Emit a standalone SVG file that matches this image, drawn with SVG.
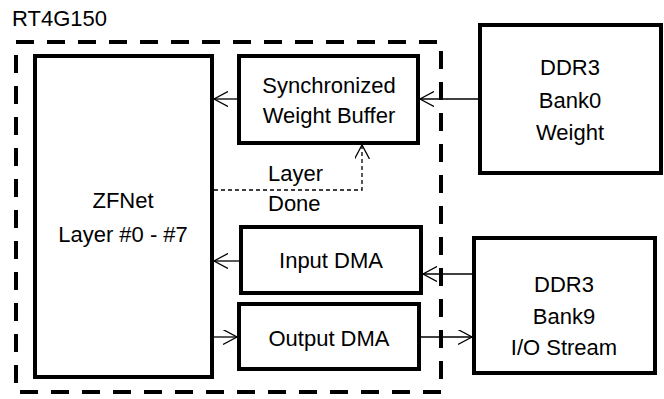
<svg xmlns="http://www.w3.org/2000/svg" width="664" height="399" viewBox="0 0 664 399">
<defs>
<marker id="a" markerWidth="16" markerHeight="16" refX="14" refY="7.5" orient="auto" markerUnits="userSpaceOnUse"><path d="M0,0 L14,7.5 L0,15" fill="none" stroke="#000" stroke-width="1.3"/></marker>
<style>
.box{fill:#fff;stroke:#000;stroke-width:4}
.t{font-family:"Liberation Sans",Arial,sans-serif;font-size:22px;fill:#000;text-anchor:middle}
.c{fill:none;stroke:#000;stroke-width:1.3;marker-end:url(#a)}
</style>
</defs>
<rect width="664" height="399" fill="#fff"/>
<g id="fpga">
<rect x="16" y="42" width="425" height="350" fill="none" stroke="#000" stroke-width="4" stroke-dasharray="18,13"/>
<text x="12" y="26" class="t" style="text-anchor:start">RT4G150</text>
</g>
<g id="zfnet"><rect class="box" x="35" y="56" width="177" height="321"/><text class="t" x="123" y="208">ZFNet</text><text class="t" x="123" y="242">Layer #0 - #7</text></g>
<g id="swb"><rect class="box" x="239" y="56" width="179" height="87"/><text class="t" x="329" y="93">Synchronized</text><text class="t" x="329" y="123">Weight Buffer</text></g>
<g id="idma"><rect class="box" x="241" y="227" width="180" height="66"/><text class="t" x="331" y="268">Input DMA</text></g>
<g id="odma"><rect class="box" x="239" y="304" width="180" height="65"/><text class="t" x="329" y="346">Output DMA</text></g>
<g id="bank0"><rect class="box" x="480" y="25" width="181" height="148"/><text class="t" x="570" y="75">DDR3</text><text class="t" x="570" y="108">Bank0</text><text class="t" x="570" y="140">Weight</text></g>
<g id="bank9"><rect class="box" x="474" y="238" width="181" height="135"/><text class="t" x="564" y="292">DDR3</text><text class="t" x="564" y="324">Bank9</text><text class="t" x="564" y="355">I/O Stream</text></g>
<g id="connectors">
<line class="c" x1="480" y1="99" x2="420" y2="99"/>
<line class="c" x1="239" y1="99" x2="214" y2="99"/>
<path d="M214,190 H362 V145" fill="none" stroke="#000" stroke-width="1.3" stroke-dasharray="4,3" marker-end="url(#a)"/>
<text class="t" x="268" y="181" style="text-anchor:start">Layer</text>
<text class="t" x="268" y="211" style="text-anchor:start">Done</text>
<line class="c" x1="474" y1="274" x2="423" y2="274"/>
<line class="c" x1="241" y1="261" x2="214" y2="261"/>
<line class="c" x1="212" y1="337" x2="237" y2="337"/>
<line class="c" x1="419" y1="337" x2="472" y2="337"/>
</g>
</svg>
